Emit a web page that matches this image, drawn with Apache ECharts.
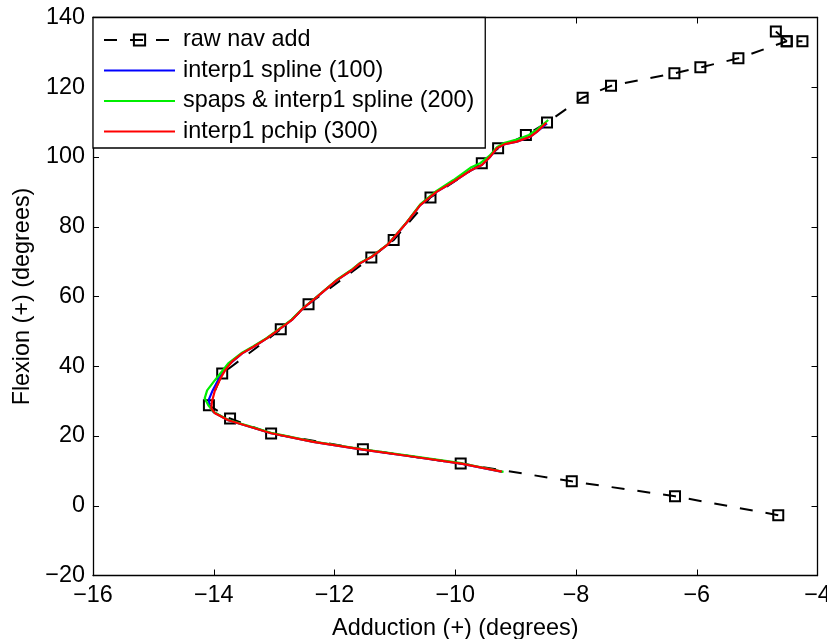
<!DOCTYPE html>
<html>
<head>
<meta charset="utf-8">
<script src="https://cdn.jsdelivr.net/npm/echarts@6/dist/echarts.min.js"></script>
<style>
html,body{margin:0;padding:0;background:#fff;}
#chart{width:827px;height:639px;}
</style>
</head>
<body>
<div id="chart"></div>
<script>
// ---- data ----
var xTicks = [-16, -14, -12, -10, -8, -6, -4];
var yTicks = [-20, 0, 20, 40, 60, 80, 100, 120, 140];
var seriesNames = ['raw nav add', 'interp1 spline (100)', 'spaps & interp1 spline (200)', 'interp1 pchip (300)'];

var rawX = [-4.65, -6.36, -8.07, -9.91, -11.53, -13.05, -13.73, -14.08, -13.86, -12.89, -12.43, -11.39, -11.02, -10.41, -9.56, -9.29, -8.83, -8.48, -7.89, -7.42, -6.37, -5.94, -5.31, -4.51, -4.69, -4.51, -4.25];
var rawY = [-2.7, 2.7, 7.0, 12.1, 16.2, 20.7, 25.0, 28.8, 37.9, 50.6, 57.8, 71.2, 76.2, 88.4, 98.2, 102.5, 106.3, 109.9, 117.0, 120.4, 124.0, 125.7, 128.3, 133.2, 136.0, 133.2, 133.2];

var splineX = [-9.22, -9.90, -10.75, -11.53, -12.35, -13.05, -13.43, -13.76, -14.00, -14.07, -14.08, -14.02, -13.92, -13.78, -13.53, -13.34, -13.12, -12.90, -12.71, -12.52, -12.29, -11.96, -11.71, -11.58, -11.38, -11.13, -11.05, -10.80, -10.58, -10.31, -10.03, -9.73, -9.56, -9.42, -9.31, -9.18, -8.98, -8.76, -8.65, -8.48];
var splineY = [9.7, 12.1, 14.2, 16.1, 18.3, 20.8, 22.8, 24.5, 26.8, 28.6, 30.5, 33.0, 36.3, 40.0, 43.7, 45.6, 48.0, 50.8, 53.2, 56.6, 59.9, 64.7, 67.6, 69.5, 71.4, 74.7, 76.2, 81.3, 86.2, 90.0, 92.9, 96.3, 97.7, 100.1, 102.5, 103.7, 104.4, 105.8, 107.2, 109.6];

var spapsX = [-9.20, -9.90, -10.75, -11.53, -12.35, -13.05, -13.43, -13.76, -14.00, -14.09, -14.15, -14.11, -13.98, -13.76, -13.53, -13.35, -13.12, -12.90, -12.71, -12.52, -12.29, -11.96, -11.71, -11.58, -11.38, -11.13, -11.05, -10.80, -10.58, -10.31, -10.03, -9.75, -9.58, -9.43, -9.31, -9.18, -9.00, -8.78, -8.64, -8.46];
var spapsY = [9.7, 12.2, 14.3, 16.2, 18.4, 20.9, 22.9, 24.6, 26.9, 28.8, 30.8, 33.1, 36.0, 40.8, 43.9, 45.7, 48.1, 50.9, 53.4, 56.7, 60.0, 64.8, 67.8, 69.6, 71.5, 74.8, 76.3, 81.4, 86.4, 90.3, 93.4, 96.9, 98.3, 100.4, 102.8, 104.1, 104.9, 106.3, 107.9, 110.6];

var pchipX = [-9.23, -9.90, -10.75, -11.53, -12.35, -13.05, -13.43, -13.76, -13.98, -14.04, -14.03, -13.98, -13.89, -13.81, -13.70, -13.53, -13.34, -13.12, -12.90, -12.71, -12.52, -12.29, -11.96, -11.71, -11.58, -11.38, -11.13, -11.05, -10.80, -10.58, -10.31, -10.03, -9.73, -9.56, -9.42, -9.31, -9.18, -8.98, -8.76, -8.65, -8.49];
var pchipY = [9.8, 12.1, 14.2, 16.1, 18.3, 20.8, 22.8, 24.5, 26.5, 27.9, 29.8, 33.1, 36.5, 38.9, 41.3, 43.7, 45.6, 48.0, 50.8, 53.2, 56.6, 59.9, 64.7, 67.6, 69.5, 71.4, 74.7, 76.2, 81.3, 86.2, 90.0, 92.9, 96.3, 97.7, 100.1, 102.5, 103.7, 104.4, 105.8, 107.2, 109.8];

function pairs(xs, ys) { return xs.map(function (x, i) { return [x, ys[i]]; }); }
function minusFmt(v) { return String(v).replace('-', '\u2212'); }

var FONT = '"Liberation Sans", Arial, Helvetica, sans-serif';
var FS = 23.4;

var chart = echarts.init(document.getElementById('chart'), null, { renderer: 'canvas' });

function xAx(pos, labels) {
  return {
    type: 'value', position: pos, min: xTicks[0], max: xTicks[xTicks.length - 1],
    interval: xTicks[1] - xTicks[0],
    name: labels ? 'Adduction (+) (degrees)' : '', nameLocation: 'middle', nameGap: 42,
    nameTextStyle: { color: '#000', fontSize: FS, fontFamily: FONT },
    axisLine: { show: true, onZero: false, lineStyle: { color: '#000', width: 1.3 } },
    axisTick: { show: true, inside: true, length: 6, lineStyle: { color: '#000', width: 1 } },
    axisLabel: { show: labels, color: '#000', fontSize: FS, fontFamily: FONT, margin: 9, formatter: minusFmt },
    splitLine: { show: false }
  };
}
function yAx(pos, labels) {
  return {
    type: 'value', position: pos, min: yTicks[0], max: yTicks[yTicks.length - 1],
    interval: yTicks[1] - yTicks[0],
    name: labels ? 'Flexion (+) (degrees)' : '', nameLocation: 'middle', nameGap: 58,
    nameTextStyle: { color: '#000', fontSize: FS, fontFamily: FONT },
    axisLine: { show: true, onZero: false, lineStyle: { color: '#000', width: 1.3 } },
    axisTick: { show: true, inside: true, length: 6, lineStyle: { color: '#000', width: 1 } },
    axisLabel: { show: labels, color: '#000', fontSize: FS, fontFamily: FONT, margin: 8, formatter: minusFmt },
    splitLine: { show: false }
  };
}

var option = {
  backgroundColor: '#fff',
  animation: false,
  grid: { left: 93, top: 17.5, width: 724.5, height: 558, containLabel: false, outerBoundsMode: 'none' },
  xAxis: [xAx('bottom', true), xAx('top', false)],
  yAxis: [yAx('left', true), yAx('right', false)],
  legend: {
    left: 93, top: 17.5, orient: 'vertical',
    data: [
      { name: seriesNames[0] },
      { name: seriesNames[1], itemStyle: { opacity: 0 } },
      { name: seriesNames[2], itemStyle: { opacity: 0 } },
      { name: seriesNames[3], itemStyle: { opacity: 0 } }
    ],
    backgroundColor: '#fff', borderColor: '#000', borderWidth: 1.3,
    padding: [10, 11, 4, 10],
    itemWidth: 71, itemHeight: 14, itemGap: 5.5,
    textStyle: { color: '#000', fontSize: FS, fontFamily: FONT, lineHeight: 25, padding: [0, 0, 0, 3] }
  },
  series: [
    {
      name: seriesNames[0], type: 'line', xAxisIndex: 0, yAxisIndex: 0,
      data: pairs(rawX, rawY),
      symbol: 'rect', symbolSize: 10,
      itemStyle: { color: 'rgba(255,255,255,0)', borderColor: '#000', borderWidth: 2 },
      lineStyle: { color: '#000', width: 2, type: [13, 13] },
      color: '#000',
      z: 2
    },
    {
      name: seriesNames[1], type: 'line', data: pairs(splineX, splineY),
      showSymbol: false, symbol: 'none', lineStyle: { color: '#0000ff', width: 2.2 }, color: '#0000ff', z: 3
    },
    {
      name: seriesNames[2], type: 'line', data: pairs(spapsX, spapsY),
      showSymbol: false, symbol: 'none', lineStyle: { color: '#00ee00', width: 2.2 }, color: '#00ee00', z: 4
    },
    {
      name: seriesNames[3], type: 'line', data: pairs(pchipX, pchipY),
      showSymbol: false, symbol: 'none', lineStyle: { color: '#ff0000', width: 2.2 }, color: '#ff0000', z: 5
    }
  ]
};
chart.setOption(option);
</script>
</body>
</html>
